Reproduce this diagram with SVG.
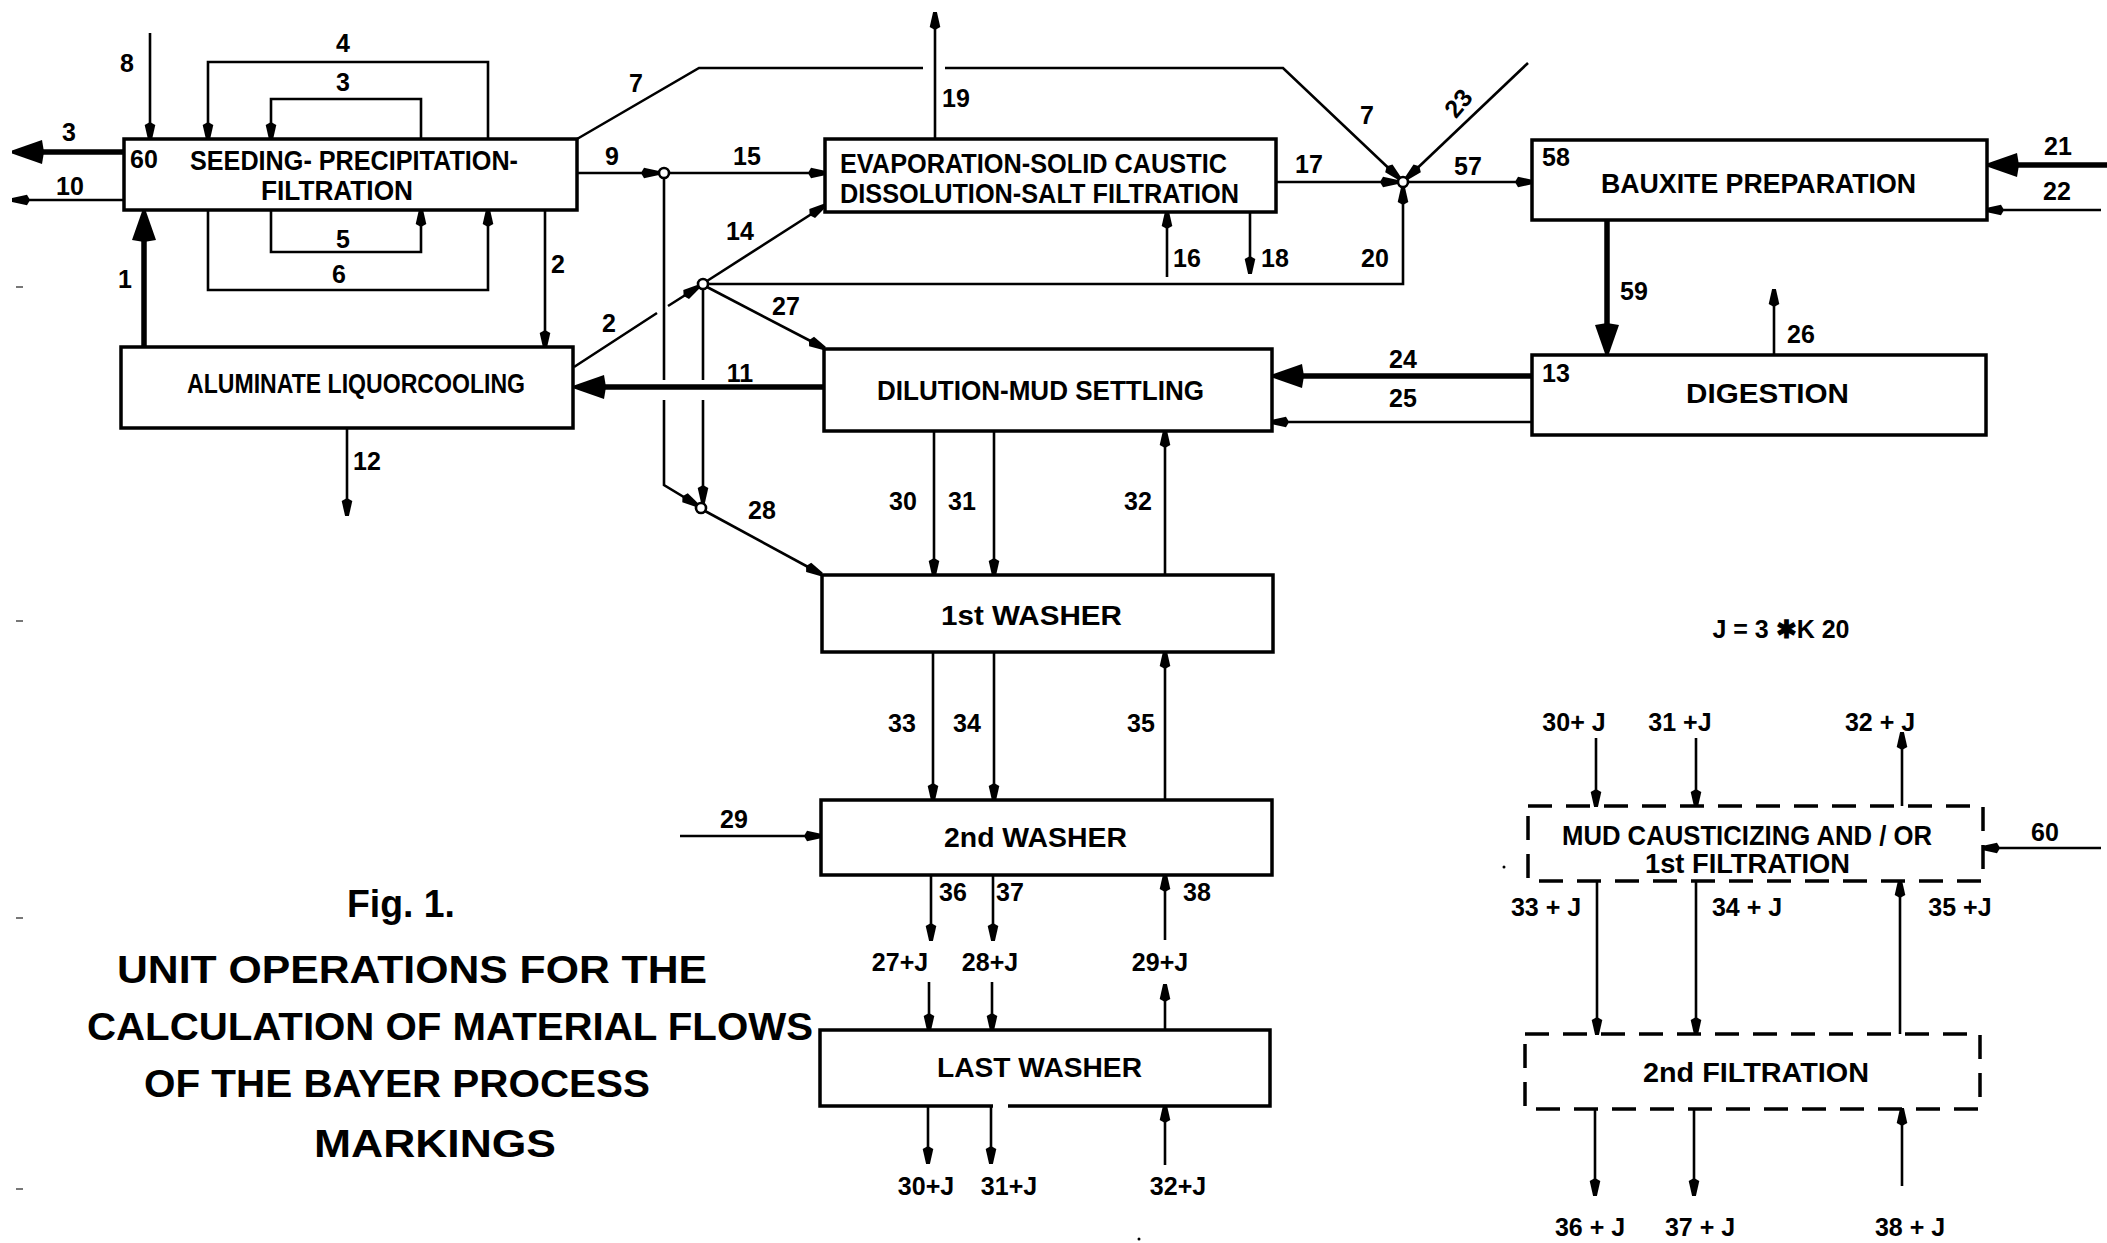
<svg xmlns="http://www.w3.org/2000/svg" width="2107" height="1243" viewBox="0 0 2107 1243">
<style>
.box{fill:none;stroke:#000;stroke-width:3.5}
.dash{fill:none;stroke:#000;stroke-width:3.5;stroke-dasharray:24 14}
.ln{fill:none;stroke:#000;stroke-width:2.6}
.thk{fill:none;stroke:#000;stroke-width:5.5}
.jn{fill:#fff;stroke:#000;stroke-width:2.6}
.t{font-family:"Liberation Sans",Arial,sans-serif;font-weight:bold;fill:#000}
.n{font-size:25px;text-anchor:middle}
.s{font-size:25px;text-anchor:start}
.b{font-size:27px}
.ti{font-size:38px}
.mk{stroke:#777;stroke-width:2}
</style>
<defs>
<marker id="a" markerUnits="userSpaceOnUse" markerWidth="20" markerHeight="13" refX="17" refY="6.5" orient="auto"><path d="M0,6.5 L3,1.2 L18,4.6 L18,8.4 L3,11.8 Z"/></marker>
<marker id="A" markerUnits="userSpaceOnUse" markerWidth="34" markerHeight="26" refX="24" refY="13" orient="auto"><path d="M0,13 L2,1 L32,11.5 L32,14.5 L2,25 Z"/></marker>
</defs>

<g id="seeding"><rect class="box" x="124" y="139" width="453" height="71"/>
<text class="t s" x="130" y="168">60</text>
<text class="t b" x="190" y="170" textLength="328" lengthAdjust="spacingAndGlyphs">SEEDING- PRECIPITATION-</text>
<text class="t b" x="261" y="200" textLength="152" lengthAdjust="spacingAndGlyphs">FILTRATION</text></g>
<g id="aluminate"><rect class="box" x="121" y="347" width="452" height="81"/>
<text class="t b" x="187" y="393" textLength="338" lengthAdjust="spacingAndGlyphs">ALUMINATE LIQUORCOOLING</text></g>
<g id="evaporation"><rect class="box" x="825" y="139" width="451" height="73"/>
<text class="t b" x="840" y="173" textLength="387" lengthAdjust="spacingAndGlyphs">EVAPORATION-SOLID CAUSTIC</text>
<text class="t b" x="840" y="203" textLength="399" lengthAdjust="spacingAndGlyphs">DISSOLUTION-SALT FILTRATION</text></g>
<g id="dilution"><rect class="box" x="824" y="349" width="448" height="82"/>
<text class="t b" x="877" y="400" textLength="327" lengthAdjust="spacingAndGlyphs">DILUTION-MUD SETTLING</text></g>
<g id="bauxite"><rect class="box" x="1532" y="140" width="455" height="80"/>
<text class="t s" x="1542" y="166">58</text>
<text class="t b" x="1601" y="193" textLength="315" lengthAdjust="spacingAndGlyphs">BAUXITE PREPARATION</text></g>
<g id="digestion"><rect class="box" x="1532" y="355" width="454" height="80"/>
<text class="t s" x="1542" y="382">13</text>
<text class="t b" x="1686" y="403" textLength="163" lengthAdjust="spacingAndGlyphs">DIGESTION</text></g>
<g id="washer1"><rect class="box" x="822" y="575" width="451" height="77"/>
<text class="t b" x="941" y="625" textLength="181" lengthAdjust="spacingAndGlyphs">1st WASHER</text></g>
<g id="washer2"><rect class="box" x="821" y="800" width="451" height="75"/>
<text class="t b" x="944" y="847" textLength="183" lengthAdjust="spacingAndGlyphs">2nd WASHER</text></g>
<g id="lastwasher"><path class="box" d="M993,1106 H820 V1030 H1270 V1106 H1008"/>
<text class="t b" x="937" y="1077" textLength="205" lengthAdjust="spacingAndGlyphs">LAST WASHER</text></g>
<g id="mudcaust"><rect class="dash" x="1528" y="806" width="455" height="75"/>
<text class="t b" x="1562" y="845" textLength="370" lengthAdjust="spacingAndGlyphs">MUD CAUSTICIZING AND / OR</text>
<text class="t b" x="1645" y="873" textLength="205" lengthAdjust="spacingAndGlyphs">1st FILTRATION</text></g>
<g id="filtration2"><rect class="dash" x="1525" y="1034" width="455" height="75"/>
<text class="t b" x="1643" y="1082" textLength="226" lengthAdjust="spacingAndGlyphs">2nd FILTRATION</text></g>

<g id="connectors">
<path class="thk" d="M124,152 H20" marker-end="url(#A)"/>
<path class="ln" d="M124,200 H13" marker-end="url(#a)"/>
<path class="ln" d="M150,33 V139" marker-end="url(#a)"/>
<path class="ln" d="M488,139 V62 H208 V139" marker-end="url(#a)"/>
<path class="ln" d="M421,139 V99 H271 V139" marker-end="url(#a)"/>
<path class="ln" d="M271,210 V252 H421 V210" marker-end="url(#a)"/>
<path class="ln" d="M208,210 V290 H488 V210" marker-end="url(#a)"/>
<path class="ln" d="M545,210 V347" marker-end="url(#a)"/>
<path class="thk" d="M144,347 V218" marker-end="url(#A)"/>
<path class="ln" d="M577,139 L699,68 H923 M945,68 H1283 L1399,178" marker-end="url(#a)"/>
<path class="ln" d="M577,173 H658" marker-end="url(#a)"/>
<path class="ln" d="M669,173 H825" marker-end="url(#a)"/>
<path class="ln" d="M935,139 V13" marker-end="url(#a)"/>
<path class="ln" d="M1276,182 H1397" marker-end="url(#a)"/>
<path class="ln" d="M1409,182 H1532" marker-end="url(#a)"/>
<path class="ln" d="M1528,63 L1407,178" marker-end="url(#a)"/>
<path class="ln" d="M708,284 H1403 V188" marker-end="url(#a)"/>
<path class="ln" d="M1167,277 V212" marker-end="url(#a)"/>
<path class="ln" d="M1250,212 V273" marker-end="url(#a)"/>
<path class="ln" d="M707,281 L824,206" marker-end="url(#a)"/>
<path class="ln" d="M574,367 L657,313 M668,306 L698,287" marker-end="url(#a)"/>
<path class="ln" d="M707,287 L824,348" marker-end="url(#a)"/>
<path class="ln" d="M664,178 V380 M664,400 V485 L697,505" marker-end="url(#a)"/>
<path class="ln" d="M703,289 V380 M703,400 V502" marker-end="url(#a)"/>
<path class="ln" d="M705,511 L821,574" marker-end="url(#a)"/>
<path class="thk" d="M824,387 H582" marker-end="url(#A)"/>
<path class="ln" d="M347,428 V515" marker-end="url(#a)"/>
<path class="thk" d="M1532,376 H1280" marker-end="url(#A)"/>
<path class="ln" d="M1532,422 H1272" marker-end="url(#a)"/>
<path class="thk" d="M1607,220 V347" marker-end="url(#A)"/>
<path class="ln" d="M1774,355 V290" marker-end="url(#a)"/>
<path class="thk" d="M2107,165 H1995" marker-end="url(#A)"/>
<path class="ln" d="M2101,210 H1987" marker-end="url(#a)"/>
<path class="ln" d="M934,431 V575" marker-end="url(#a)"/>
<path class="ln" d="M994,431 V575" marker-end="url(#a)"/>
<path class="ln" d="M1165,575 V431" marker-end="url(#a)"/>
<path class="ln" d="M933,652 V800" marker-end="url(#a)"/>
<path class="ln" d="M994,652 V800" marker-end="url(#a)"/>
<path class="ln" d="M1165,800 V652" marker-end="url(#a)"/>
<path class="ln" d="M680,836 H821" marker-end="url(#a)"/>
<path class="ln" d="M931,875 V940" marker-end="url(#a)"/>
<path class="ln" d="M993,875 V940" marker-end="url(#a)"/>
<path class="ln" d="M1165,940 V875" marker-end="url(#a)"/>
<path class="ln" d="M929,982 V1030" marker-end="url(#a)"/>
<path class="ln" d="M992,982 V1030" marker-end="url(#a)"/>
<path class="ln" d="M1165,1030 V985" marker-end="url(#a)"/>
<path class="ln" d="M928,1106 V1163" marker-end="url(#a)"/>
<path class="ln" d="M991,1106 V1163" marker-end="url(#a)"/>
<path class="ln" d="M1165,1165 V1106" marker-end="url(#a)"/>
<path class="ln" d="M1596,738 V806" marker-end="url(#a)"/>
<path class="ln" d="M1696,738 V806" marker-end="url(#a)"/>
<path class="ln" d="M1902,806 V733" marker-end="url(#a)"/>
<path class="ln" d="M2101,848 H1983" marker-end="url(#a)"/>
<path class="ln" d="M1597,881 V1034" marker-end="url(#a)"/>
<path class="ln" d="M1696,881 V1034" marker-end="url(#a)"/>
<path class="ln" d="M1900,1034 V881" marker-end="url(#a)"/>
<path class="ln" d="M1595,1109 V1195" marker-end="url(#a)"/>
<path class="ln" d="M1694,1109 V1195" marker-end="url(#a)"/>
<path class="ln" d="M1902,1186 V1109" marker-end="url(#a)"/>
<circle class="jn" cx="664" cy="173" r="5"/>
<circle class="jn" cx="703" cy="284" r="5"/>
<circle class="jn" cx="701" cy="508" r="5"/>
<circle class="jn" cx="1403" cy="182" r="5"/>
</g>

<g id="labels">
<text class="t n" x="69" y="141">3</text>
<text class="t n" x="70" y="195">10</text>
<text class="t n" x="127" y="72">8</text>
<text class="t n" x="343" y="52">4</text>
<text class="t n" x="343" y="91">3</text>
<text class="t n" x="343" y="248">5</text>
<text class="t n" x="339" y="283">6</text>
<text class="t n" x="125" y="288">1</text>
<text class="t n" x="558" y="273">2</text>
<text class="t n" x="636" y="92">7</text>
<text class="t n" x="612" y="165">9</text>
<text class="t n" x="747" y="165">15</text>
<text class="t n" x="956" y="107">19</text>
<text class="t n" x="1309" y="173">17</text>
<text class="t n" x="1367" y="124">7</text>
<text class="t n" transform="translate(1458,103) rotate(-50)" x="0" y="9">23</text>
<text class="t n" x="1468" y="175">57</text>
<text class="t n" x="740" y="240">14</text>
<text class="t n" x="786" y="315">27</text>
<text class="t n" x="609" y="332">2</text>
<text class="t n" x="740" y="382">11</text>
<text class="t n" x="1187" y="267">16</text>
<text class="t n" x="1275" y="267">18</text>
<text class="t n" x="1375" y="267">20</text>
<text class="t n" x="1403" y="368">24</text>
<text class="t n" x="1403" y="407">25</text>
<text class="t n" x="2058" y="155">21</text>
<text class="t n" x="2057" y="200">22</text>
<text class="t n" x="1634" y="300">59</text>
<text class="t n" x="1801" y="343">26</text>
<text class="t n" x="367" y="470">12</text>
<text class="t n" x="762" y="519">28</text>
<text class="t n" x="903" y="510">30</text>
<text class="t n" x="962" y="510">31</text>
<text class="t n" x="1138" y="510">32</text>
<text class="t n" x="902" y="732">33</text>
<text class="t n" x="967" y="732">34</text>
<text class="t n" x="1141" y="732">35</text>
<text class="t n" x="734" y="828">29</text>
<text class="t n" x="953" y="901">36</text>
<text class="t n" x="1010" y="901">37</text>
<text class="t n" x="1197" y="901">38</text>
<text class="t n" x="900" y="971">27+J</text>
<text class="t n" x="990" y="971">28+J</text>
<text class="t n" x="1160" y="971">29+J</text>
<text class="t n" x="926" y="1195">30+J</text>
<text class="t n" x="1009" y="1195">31+J</text>
<text class="t n" x="1178" y="1195">32+J</text>
<text class="t n" x="1781" y="638" font-size="22">J = 3 ✱K 20</text>
<text class="t n" x="1574" y="731">30+ J</text>
<text class="t n" x="1680" y="731">31 +J</text>
<text class="t n" x="1880" y="731">32 + J</text>
<text class="t n" x="2045" y="841">60</text>
<text class="t n" x="1546" y="916">33 + J</text>
<text class="t n" x="1747" y="916">34 + J</text>
<text class="t n" x="1960" y="916">35  +J</text>
<text class="t n" x="1590" y="1236">36 + J</text>
<text class="t n" x="1700" y="1236">37 + J</text>
<text class="t n" x="1910" y="1236">38 + J</text>
</g>

<g id="title">
<text class="t ti" x="347" y="917" textLength="108" lengthAdjust="spacingAndGlyphs">Fig. 1.</text>
<text class="t ti" x="117" y="983" textLength="590" lengthAdjust="spacingAndGlyphs">UNIT OPERATIONS  FOR THE</text>
<text class="t ti" x="87" y="1040" textLength="726" lengthAdjust="spacingAndGlyphs">CALCULATION OF MATERIAL FLOWS</text>
<text class="t ti" x="144" y="1097" textLength="506" lengthAdjust="spacingAndGlyphs">OF THE BAYER PROCESS</text>
<text class="t ti" x="314" y="1157" textLength="242" lengthAdjust="spacingAndGlyphs">MARKINGS</text>
</g>

<g id="marks">
<path class="mk" d="M16,287 H23 M16,621 H23 M16,918 H23 M16,1189 H23"/>
<circle cx="1139" cy="1239" r="1.5" fill="#000"/>
<circle cx="1504" cy="867" r="1.5" fill="#000"/>
</g>
</svg>
